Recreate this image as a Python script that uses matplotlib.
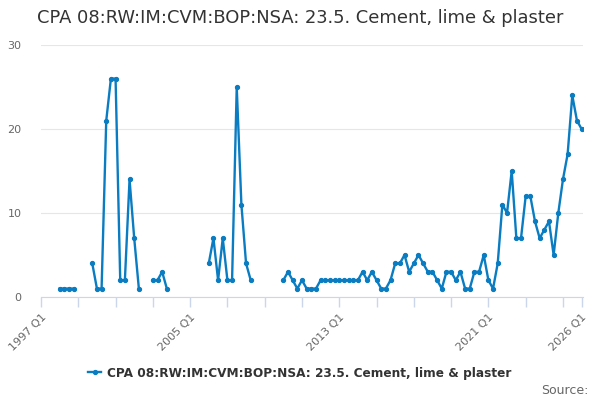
# CPA 08:RW:IM:CVM:BOP:NSA: 23.5 - line chart by quarter
import matplotlib.pyplot as plt
import numpy as np

nan = np.nan

# quarters 1997 Q1 .. 2026 Q1 (117 values), gaps as nan
values = (
    [nan, nan, nan, nan]                                  # 1997
    + [1, 1, 1, 1]                                        # 1998
    + [nan, nan, nan, 4]                                  # 1999
    + [1, 1, 21, 26]                                      # 2000
    + [26, 2, 2, 14]                                      # 2001
    + [7, 1, nan, nan]                                    # 2002
    + [2, 2, 3, 1]                                        # 2003
    + [nan, nan, nan, nan]                                # 2004
    + [nan, nan, nan, nan]                                # 2005
    + [4, 7, 2, 7]                                        # 2006
    + [2, 2, 25, 11]                                      # 2007
    + [4, 2, nan, nan]                                    # 2008
    + [nan, nan, nan, nan]                                # 2009
    + [2, 3, 2, 1]                                        # 2010
    + [2, 1, 1, 1]                                        # 2011
    + [2, 2, 2, 2]                                        # 2012
    + [2, 2, 2, 2]                                        # 2013
    + [2, 3, 2, 3]                                        # 2014
    + [2, 1, 1, 2]                                        # 2015
    + [4, 4, 5, 3]                                        # 2016
    + [4, 5, 4, 3]                                        # 2017
    + [3, 2, 1, 3]                                        # 2018
    + [3, 2, 3, 1]                                        # 2019
    + [1, 3, 3, 5]                                        # 2020
    + [2, 1, 4, 11]                                       # 2021
    + [10, 15, 7, 7]                                      # 2022
    + [12, 12, 9, 7]                                      # 2023
    + [8, 9, 5, 10]                                       # 2024
    + [14, 17, 24, 21]                                    # 2025
    + [20]                                                # 2026 Q1
)
tick_pos = [0, 32, 64, 96, 116]
tick_labels = ['1997 Q1', '2005 Q1', '2013 Q1', '2021 Q1', '2026 Q1']
minor_pos = list(range(8, 116, 8))

title = 'CPA 08:RW:IM:CVM:BOP:NSA: 23.5. Cement, lime & plaster'
line_color = '#0a7cc1'

x = np.arange(len(values))
y = np.array(values, dtype=float)

fig = plt.figure(figsize=(6, 4), dpi=100)
ax = fig.add_axes([41 / 600, 103 / 400, 542 / 600, 252 / 400])

ax.plot(x, y, color=line_color, lw=1.7, marker='o', ms=2.8, label=title)

ax.set_xlim(0, 116.3)
ax.set_ylim(0, 30)
ax.set_yticks([0, 10, 20, 30])
ax.grid(axis='y', color='#e6e6e6', lw=0.8)
ax.set_axisbelow(True)

ax.set_xticks(tick_pos)
ax.set_xticklabels(tick_labels, rotation=45, ha='right', rotation_mode='anchor')
ax.set_xticks(minor_pos, minor=True)
ax.tick_params(axis='x', which='both', length=7, color='#ccd6eb', width=1,
               labelsize=8, labelcolor='#666666', pad=4)
ax.tick_params(axis='y', length=0, labelsize=8, labelcolor='#666666', pad=14)

for s in ['top', 'right', 'left']:
    ax.spines[s].set_visible(False)
ax.spines['bottom'].set_color('#ccd6eb')

fig.text(0.5, 1 - 18 / 400, title, ha='center', va='center', fontsize=12.9, color='#333333')
leg = fig.legend(loc='center', bbox_to_anchor=(0.5, 1 - 373 / 400), frameon=False,
                 handlelength=1.1, handletextpad=0.5,
                 prop={'weight': 'bold', 'size': 8.7})
for t in leg.get_texts():
    t.set_color('#333333')
fig.text(588 / 600, 1 - 391 / 400, 'Source:', ha='right', va='center',
         fontsize=9, color='#666666')

plt.savefig('out.png', dpi=100)
